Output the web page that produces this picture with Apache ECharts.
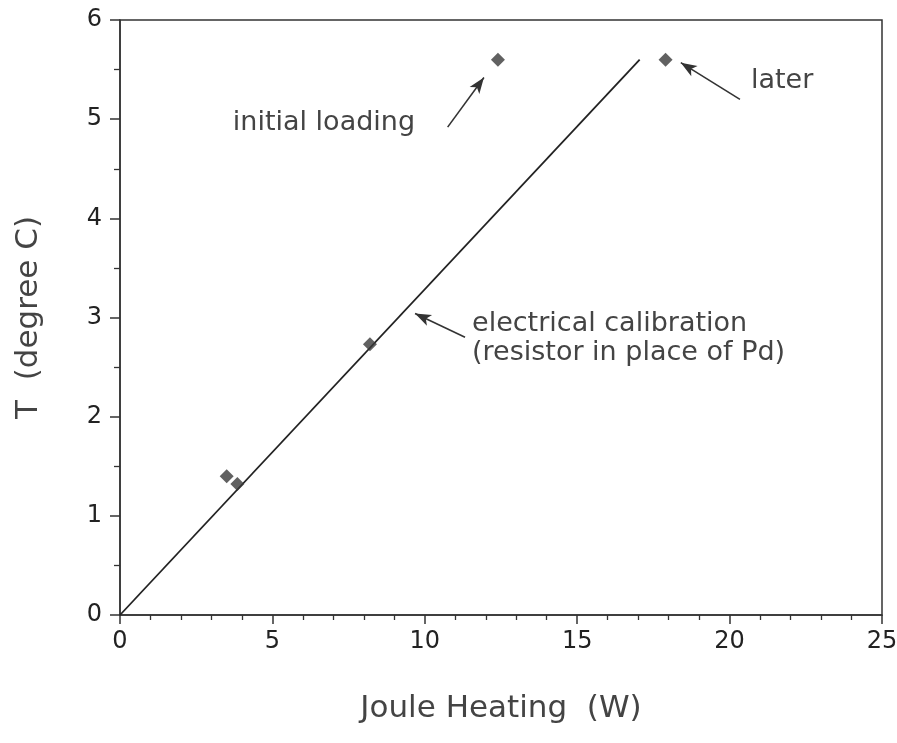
<!DOCTYPE html>
<html>
<head>
<meta charset="utf-8">
<script src="https://cdn.jsdelivr.net/npm/echarts@6/dist/echarts.min.js"></script>
<style>html,body{margin:0;padding:0;background:#fff}#c{width:897px;height:743px}</style>
</head>
<body>
<div id="c"></div>
<script>
// Data
var calibrationLine = [[0, 0], [17.05, 5.6]];
var measuredPoints = [[3.5, 1.40], [3.85, 1.32], [8.2, 2.73], [12.4, 5.6], [17.9, 5.6]];
var xTicks = [0, 5, 10, 15, 20, 25];
var yTicks = [0, 1, 2, 3, 4, 5, 6];
// annotations: [text, x, y]
var notes = [
  ['initial loading', 3.7, 4.96],
  ['later', 20.7, 5.38],
  ['electrical calibration', 11.55, 2.93],
  ['(resistor in place of Pd)', 11.55, 2.64]
];
// arrows: [fromX, fromY, toX, toY]
var arrows = [
  [10.75, 4.92, 11.94, 5.42],
  [20.34, 5.20, 18.4, 5.57],
  [11.32, 2.80, 9.68, 3.04]
];

var FONT = '"DejaVu Sans", Lato, sans-serif';
var ink = '#333';
var chart = echarts.init(document.getElementById('c'), null, {renderer: 'canvas'});
chart.setOption({
  animation: false,
  backgroundColor: '#fff',
  grid: {left: 120, right: 15, top: 20, bottom: 128, outerBoundsMode: 'none', containLabel: false,
         show: true, borderColor: ink, borderWidth: 1.5, backgroundColor: 'transparent'},
  xAxis: {
    type: 'value', min: xTicks[0], max: xTicks[xTicks.length - 1], interval: 5,
    name: 'Joule Heating  (W)', nameLocation: 'middle', nameGap: 78,
    nameTextStyle: {fontFamily: FONT, fontSize: 31, color: '#444'},
    axisLine: {lineStyle: {color: ink, width: 1.5}},
    axisTick: {length: 9, lineStyle: {color: ink, width: 1.5}},
    minorTick: {show: true, splitNumber: 5, length: 5, lineStyle: {color: ink, width: 1.3}},
    axisLabel: {fontFamily: FONT, fontSize: 24, color: '#222', margin: 15},
    splitLine: {show: false}
  },
  yAxis: {
    type: 'value', min: yTicks[0], max: yTicks[yTicks.length - 1], interval: 1,
    name: 'T  (degree C)', nameLocation: 'middle', nameGap: 76, nameRotate: 90,
    nameTextStyle: {fontFamily: FONT, fontSize: 31, color: '#444'},
    axisLine: {lineStyle: {color: ink, width: 1.5}},
    axisTick: {length: 10, lineStyle: {color: ink, width: 1.5}},
    minorTick: {show: true, splitNumber: 2, length: 6, lineStyle: {color: ink, width: 1.3}},
    axisLabel: {fontFamily: FONT, fontSize: 24, color: '#222', margin: 18},
    splitLine: {show: false}
  },
  series: [
    {type: 'line', data: calibrationLine, symbol: 'none', lineStyle: {color: '#222', width: 1.8}, z: 2},
    {type: 'scatter', data: measuredPoints, symbol: 'diamond', symbolSize: 14, itemStyle: {color: '#3a3a3a'}, z: 3,
     markLine: {
       silent: true, symbol: ['none', 'arrow'], symbolSize: [9, 16],
       lineStyle: {color: '#333', width: 1.6, type: 'solid'}, label: {show: false},
       data: arrows.map(function (a) { return [{coord: [a[0], a[1]]}, {coord: [a[2], a[3]]}]; })
     }}
  ]
});
chart.setOption({
  graphic: notes.map(function (n) {
    var p = chart.convertToPixel({gridIndex: 0}, [n[1], n[2]]);
    return {type: 'text', x: p[0], y: p[1], style: {text: n[0], font: '27px ' + FONT, fill: '#444', verticalAlign: 'middle'}};
  })
});
</script>
</body>
</html>
